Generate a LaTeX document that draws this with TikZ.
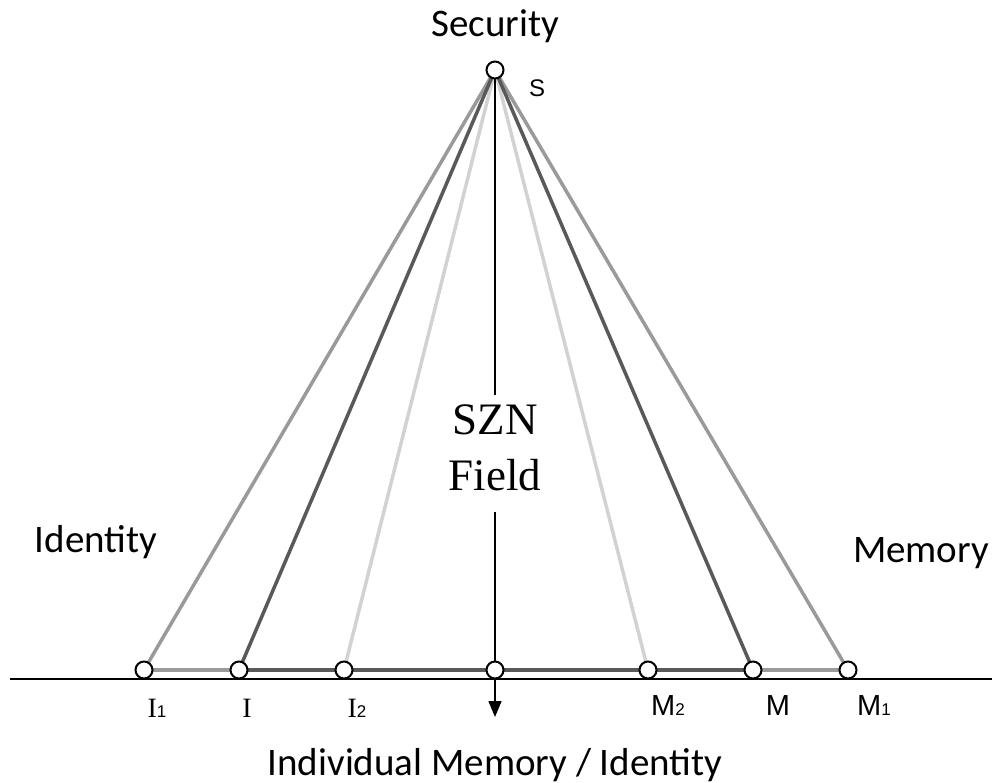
\documentclass[tikz,border=0pt]{standalone}
\usepackage{fontspec}
\setmainfont{Carlito}
\newfontfamily\serifF{Liberation Serif}
\newfontfamily\sansF{Liberation Sans}
\usetikzlibrary{arrows.meta}
\definecolor{gOuter}{HTML}{9A9A9A}
\definecolor{gDark}{HTML}{595959}
\definecolor{gLight}{HTML}{D2D2D2}
\pgfdeclarelayer{bg}
\pgfsetlayers{bg,main}
\tikzset{
  dot/.style={circle, draw=black, fill=white, line width=2pt, minimum size=17pt, inner sep=0pt},
  ray/.style={line width=3.5pt, line cap=round},
  bigtxt/.style={font=\fontsize{39}{46}\selectfont, inner sep=0pt},
  ilab/.style={font=\serifF\fontsize{28}{30}\selectfont, inner sep=0pt, anchor=base},
  mlab/.style={font=\sansF\fontsize{29}{30}\selectfont, inner sep=0pt, anchor=base},
}
\newcommand{\subs}[1]{{\sansF\fontsize{17}{17}\selectfont #1}}
\begin{document}
\begin{tikzpicture}[x=1pt,y=-1pt]
\useasboundingbox (0,0) rectangle (992,783);
% points
\node[dot] (S) at (495,70) {};
\node[dot] (I1) at (144,670) {};
\node[dot] (I) at (239,670) {};
\node[dot] (I2) at (344,670) {};
\node[dot] (C) at (495,670) {};
\node[dot] (M2) at (648,670) {};
\node[dot] (M) at (753,670) {};
\node[dot] (M1) at (848,670) {};
\coordinate (lineL) at (10,679);
\coordinate (lineR) at (992,679);
\coordinate (aend) at (495,717);
% texts
\node[bigtxt, anchor=base] (sec) at (495,37) {Security};
\node[font=\sansF\fontsize{24}{26}\selectfont, inner sep=0pt, anchor=base] (slab) at (537,97) {S};
\node[bigtxt, anchor=base] (ident) at (96,552) {Identity};
\node[bigtxt, anchor=base] (mem) at (921,562) {Memory};
\node[bigtxt, anchor=base] (indiv) at (495,775) {Individual Memory / Identity};
\node[font=\serifF\fontsize{45}{56}\selectfont, align=center, inner xsep=4pt, inner ysep=10pt, anchor=north] (szn) at (495,395) {SZN\\Field\rule[-11pt]{0pt}{11pt}};
\node[ilab] (lI1) at (157,717) {I\subs{1}};
\node[ilab] (lI) at (247,717) {I};
\node[ilab] (lI2) at (357,717) {I\subs{2}};
\node[mlab] (lM2) at (668,715) {M\subs{2}};
\node[mlab] (lM) at (778,715) {M};
\node[mlab] (lM1) at (874,715) {M\subs{1}};
\begin{pgfonlayer}{bg}
  \draw[line width=2pt] (lineL) -- (lineR);
  \draw[ray, gOuter] (S.center) -- (I1.center);
  \draw[ray, gOuter] (S.center) -- (M1.center);
  \draw[ray, gLight] (S.center) -- (I2.center);
  \draw[ray, gLight] (S.center) -- (M2.center);
  \draw[ray, gDark] (S.center) -- (I.center);
  \draw[ray, gDark] (S.center) -- (M.center);
  \draw[ray, gOuter] (I1.center) -- (I.center);
  \draw[ray, gOuter] (M.center) -- (M1.center);
  \draw[ray, gDark] (I.center) -- (M.center);
  \draw[line width=1.5pt] (S.center) -- (szn.north);
  \draw[line width=1.5pt, -{Triangle[width=13pt,length=16pt]}] (szn.south) -- (aend);
\end{pgfonlayer}
\end{tikzpicture}
\end{document}
